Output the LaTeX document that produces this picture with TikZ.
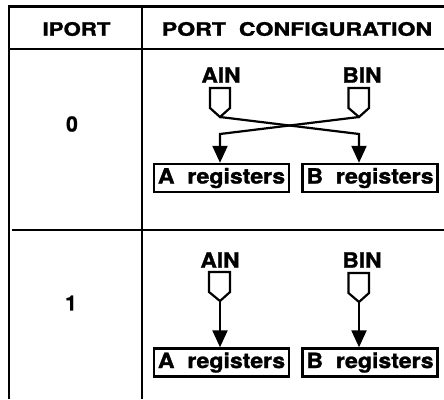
\documentclass[tikz,border=0pt]{standalone}
\usepackage{fontspec}
\setmainfont{TeX Gyre Heros}[BoldFeatures={FakeBold=1.3}]
\usetikzlibrary{arrows.meta}
\begin{document}
\begin{tikzpicture}[x=1pt,y=-1pt,
  grid/.style={line width=2.4pt},
  hdr/.style={font=\fontsize{18.5}{20}\selectfont\bfseries, inner sep=0pt},
  lbl/.style={font=\fontsize{21}{22}\selectfont\bfseries, inner sep=0pt},
  reg/.style={draw, line width=2.4pt, minimum width=135pt, minimum height=28pt, inner sep=0pt, font=\fontsize{21}{22}\selectfont\bfseries},
  shield/.style={line width=2.2pt, line join=miter},
  conn/.style={line width=2.2pt, -{Triangle[length=17pt,width=15pt]}}]
\useasboundingbox (0,0) rectangle (444,399);
% table grid
\draw[grid] (9,399) -- (9,6.5) -- (444,6.5);
\draw[grid] (9,49) -- (444,49);
\draw[grid] (142,6.5) -- (142,399);
\draw[grid] (12,230) -- (444,230);
% headers
\node[hdr] (h1) at (76.5,29) {\scalebox{1.2}[1]{IPORT}};
\node[hdr] (h2) at (297,29) {\scalebox{1.25}[1]{PORT\ \ CONFIGURATION}};
% row labels
\node[lbl] (r0) at (72,124) {0};
\node[lbl] (r1) at (71,303) {1};
% ---------- row 0 ----------
\node[lbl] (ain0) at (221,75) {\scalebox{1.08}[1]{AIN}};
\node[lbl] (bin0) at (362,75) {\scalebox{1.08}[1]{BIN}};
\draw[shield] (210,88) -- (230,88) -- (230,108) -- (220,117) -- (210,108) -- cycle;
\draw[shield] (348.5,88) -- (369,88) -- (369,108) -- (359,117) -- (348.5,108) -- cycle;
\coordinate (at0) at (220,117);
\coordinate (bt0) at (359,117);
\coordinate (mid0) at (0,134);
\node[reg] (areg0) at (221.5,178) {\scalebox{1.1}[1]{A\ \ registers}};
\node[reg] (breg0) at (370,178) {\scalebox{1.1}[1]{B\ \ registers}};
\draw[conn] (at0) -- (mid0 -| bt0) -- (bt0 |- breg0.north);
\draw[conn] (bt0) -- (mid0 -| at0) -- (at0 |- areg0.north);
% ---------- row 1 ----------
\node[lbl] (ain1) at (220,260) {\scalebox{1.08}[1]{AIN}};
\node[lbl] (bin1) at (362,260) {\scalebox{1.08}[1]{BIN}};
\draw[shield] (209,272) -- (230,272) -- (230,292) -- (220,301) -- (209,292) -- cycle;
\draw[shield] (348.5,273) -- (369,273) -- (369,293) -- (359,302) -- (348.5,293) -- cycle;
\coordinate (at1) at (220,301);
\coordinate (bt1) at (359,302);
\node[reg] (areg1) at (221.5,362.5) {\scalebox{1.1}[1]{A\ \ registers}};
\node[reg] (breg1) at (370,362.5) {\scalebox{1.1}[1]{B\ \ registers}};
\draw[conn] (at1) -- (at1 |- areg1.north);
\draw[conn] (bt1) -- (bt1 |- breg1.north);
\end{tikzpicture}
\end{document}
